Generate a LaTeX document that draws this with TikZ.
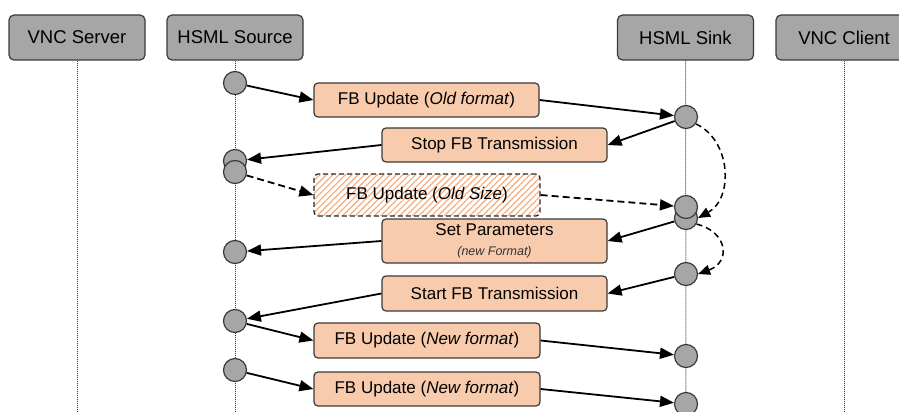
\documentclass[tikz,border=0pt]{standalone}
\usepackage{fontspec}
\setmainfont{Liberation Sans}
\usetikzlibrary{arrows.meta,patterns.meta}
\definecolor{hdr}{HTML}{A6A6A6}
\definecolor{peach}{HTML}{F8CBAD}
\definecolor{edgec}{HTML}{3A3A3A}
\definecolor{hatchc}{HTML}{F4B183}
\begin{document}
\begin{tikzpicture}[x=1pt,y=-1pt,
  hdrbox/.style={draw=edgec, line width=1.2pt, fill=hdr, rounded corners=5pt,
    minimum width=136pt, minimum height=45pt, inner sep=0pt,
    font=\fontsize{18.5}{20}\selectfont},
  msgbox/.style={draw=edgec, line width=1.2pt, fill=peach, rounded corners=4pt,
    inner sep=0pt, align=center, minimum width=225pt, minimum height=34pt,
    font=\fontsize{17}{19}\selectfont},
  hatchbox/.style={draw=black!85, line width=1.3pt, dash pattern=on 5pt off 3pt,
    rounded corners=4pt, inner sep=0pt, align=center, minimum width=226pt,
    minimum height=42pt, font=\fontsize{17}{19}\selectfont,
    pattern={Lines[angle=45,distance=4.5pt,line width=1.3pt]}, pattern color=hatchc},
  evdot/.style={circle, draw=edgec, line width=1.2pt, fill=hdr, minimum size=23pt, inner sep=0pt},
  life/.style={draw=edgec, line width=1pt, dash pattern=on 1pt off 1pt},
  msg/.style={draw=black, line width=1.8pt, -{Triangle[length=14pt,width=11pt]}},
  dmsg/.style={msg, dash pattern=on 7pt off 4pt},
  curv/.style={draw=black, line width=1.5pt, dash pattern=on 6pt off 4pt,
    -{Triangle[length=12pt,width=10pt]}},
]
\useasboundingbox (0,0) rectangle (899,412);
\clip (0,0) rectangle (899,412);

% headers
\node[hdrbox] (vs) at (77,37.5) {VNC Server};
\node[hdrbox] (hso) at (235,37.5) {HSML Source};
\node[hdrbox] (hsi) at (685.5,37.5) {HSML Sink};
\node[hdrbox] (vc) at (844,37.5) {VNC Client};

% lifelines
\coordinate (vsb) at (77,412);
\coordinate (hsob) at (235,412);
\coordinate (hsib) at (686,412);
\coordinate (vcb) at (844,412);
\draw[life] (vs.south) -- (vsb);
\draw[life] (hso.south) -- (hsob);
\draw[life] (hsi.south) -- (hsib);
\draw[life] (vc.south) -- (vcb);

% message boxes
\node[msgbox] (m1) at (426.5,100) {FB Update (\textit{Old format})};
\node[msgbox] (m2) at (494.5,145) {Stop FB Transmission};
\node[hatchbox] (m3) at (427,195) {FB Update (\textit{Old Size})};
\node[msgbox, minimum height=44pt] (m4) at (494.5,241)
  {Set Parameters\\[1pt]{\fontsize{12.5}{14}\selectfont\itshape\color{black!80} (new Format)}};
\node[msgbox, minimum height=35pt] (m5) at (494.5,293.5) {Start FB Transmission};
\node[msgbox, minimum width=226pt, minimum height=35pt] (m6) at (427,340.5) {FB Update (\textit{New format})};
\node[msgbox, minimum width=226pt] (m7) at (427,389) {FB Update (\textit{New format})};

% event dots
\node[evdot] (s1) at (235,83) {};
\node[evdot] (s2a) at (235,161) {};
\node[evdot] (s2b) at (235,172) {};
\node[evdot] (s4) at (235,252) {};
\node[evdot] (s6) at (235,321) {};
\node[evdot] (s7) at (235,370) {};
\node[evdot] (k1) at (686,117) {};
\node[evdot] (k3b) at (686,218) {};
\node[evdot] (k3a) at (686,207) {};
\node[evdot] (k5) at (686,274) {};
\node[evdot] (k6) at (686,356) {};
\node[evdot] (k7) at (686,404) {};

% messages
\draw[msg] (s1) -- (m1.west);
\draw[msg] (m1.east) -- (k1);
\draw[msg] (k1) -- (m2.east);
\draw[msg] (m2.west) -- (s2a);
\draw[dmsg] (s2b) -- (m3.west);
\draw[dmsg] (m3.east) -- (k3a);
\draw[msg] (k3b) -- (m4.east);
\draw[msg] (m4.west) -- (s4);
\draw[msg] (k5) -- (m5.east);
\draw[msg] (m5.west) -- (s6);
\draw[msg] (s6) -- (m6.west);
\draw[msg] (m6.east) -- (k6);
\draw[msg] (s7) -- (m7.west);
\draw[msg] (m7.east) -- (k7);

% internal dashed curves
\draw[curv] (k1.-35) .. controls (731,140) and (734,198) .. (k3b.east);
\draw[curv] (k3b.-30) .. controls (728,232) and (731,262) .. (k5.east);
\end{tikzpicture}
\end{document}
